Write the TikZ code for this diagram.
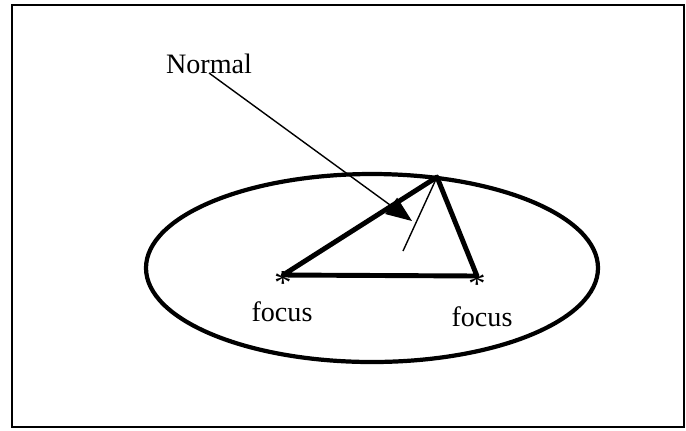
\documentclass[tikz,border=0pt]{standalone}
\usepackage{fontspec}
\setmainfont{Liberation Serif}
\usetikzlibrary{arrows.meta}

\begin{document}
\begin{tikzpicture}[x=0.015cm,y=-0.015cm,every node/.style={font=\fontsize{12}{14}\selectfont},thin line/.style={line width=0.6pt},heavy line/.style={line width=2.1pt,line join=round},focus mark/.style={inner sep=0pt,font=\fontsize{15}{17}\selectfont}]
	\useasboundingbox (0,0) rectangle (686,430);
	\draw[line width=1.2pt] (12,5) rectangle (684,427);
	\draw[line width=1.8pt] (372,268) ellipse [x radius=226,y radius=94];
	\coordinate (p) at (437,177);
	\coordinate (f1) at (283,275);
	\coordinate (f2) at (477,276);
	\coordinate (n) at (403,251);
	\coordinate (tip) at (412,221);
	\node[anchor=base] (normal) at (209,73) {Normal};
	\draw[heavy line] (f1) -- (p) -- (f2) -- cycle;
	\draw[thin line] (p) -- (n);
	\draw[thin line,-{Triangle[length=11pt,width=8.5pt]}] (normal.base) -- (tip);
	\foreach \f in {f1,f2} \node[focus mark] (mark\f) at ([yshift=-1.5pt]\f) {\raisebox{-0.46em}[0.22em][0.22em]{*}};
	\node[anchor=base] (focusa) at (282,321) {focus};
	\node[anchor=base] (focusb) at (482,326) {focus};
\end{tikzpicture}
\end{document}
